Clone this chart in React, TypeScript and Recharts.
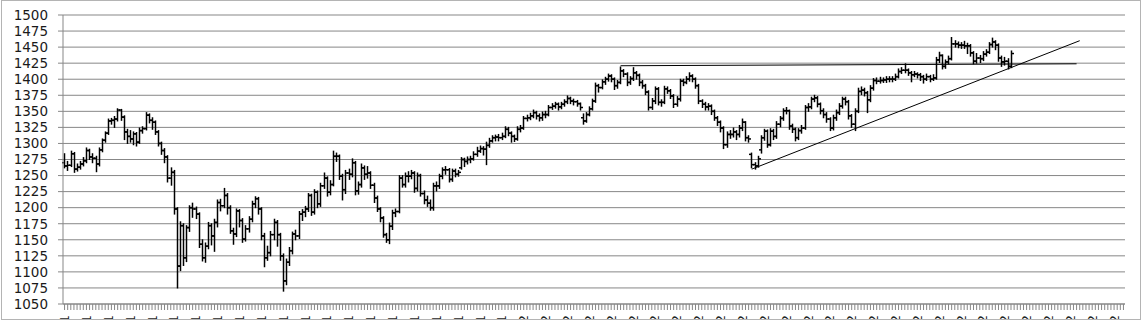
import React from "react";
import { Bar, CartesianGrid, ComposedChart, Line, XAxis, YAxis } from "recharts";

// daily bars (o / h / l / c)
const opens = [
  1270, 1265, 1266, 1284, 1260, 1263, 1268, 1273, 1289, 1279,
  1277, 1268, 1290, 1305, 1316, 1335, 1336, 1338, 1352, 1341,
  1318, 1311, 1307, 1315, 1302, 1320, 1323, 1344, 1336, 1333,
  1318, 1300, 1289, 1279, 1246, 1255, 1198, 1109, 1172, 1122,
  1169, 1200, 1198, 1190, 1143, 1122, 1140, 1172, 1156, 1177,
  1208, 1203, 1219, 1200, 1164, 1159, 1195, 1180, 1151, 1167,
  1182, 1206, 1214, 1198, 1156, 1122, 1130, 1158, 1177, 1158,
  1125, 1086, 1115, 1133, 1159, 1156, 1190, 1193, 1198, 1219,
  1193, 1224, 1206, 1234, 1246, 1224, 1236, 1280, 1280, 1249,
  1228, 1254, 1252, 1270, 1226, 1236, 1262, 1252, 1254, 1235,
  1215, 1198, 1184, 1158, 1150, 1171, 1192, 1194, 1246, 1236,
  1249, 1249, 1254, 1230, 1250, 1222, 1212, 1207, 1200, 1234,
  1234, 1249, 1259, 1259, 1244, 1257, 1252, 1262, 1275, 1272,
  1275, 1276, 1283, 1288, 1292, 1291, 1297, 1304, 1309, 1310,
  1309, 1311, 1322, 1316, 1311, 1307, 1322, 1324, 1339, 1340,
  1343, 1348, 1343, 1340, 1345, 1345, 1356, 1358, 1361, 1357,
  1361, 1365, 1370, 1366, 1365, 1362, 1340, 1335, 1345, 1354,
  1366, 1390, 1387, 1396, 1400, 1405, 1400, 1390, 1395, 1413,
  1408, 1395, 1401, 1410, 1406, 1395, 1390, 1380, 1356, 1366,
  1385, 1364, 1364, 1385, 1382, 1374, 1361, 1369, 1397, 1395,
  1400, 1405, 1400, 1390, 1366, 1361, 1357, 1358, 1350, 1340,
  1333, 1324, 1298, 1314, 1314, 1318, 1314, 1324, 1333, 1309,
  1283, 1267, 1265, 1290, 1309, 1319, 1298, 1319, 1311, 1330,
  1339, 1351, 1351, 1327, 1322, 1309, 1320, 1324, 1356, 1357,
  1369, 1371, 1361, 1351, 1345, 1338, 1324, 1340, 1348, 1358,
  1369, 1365, 1343, 1330, 1350, 1381, 1383, 1379, 1368, 1386,
  1398, 1397, 1398, 1399, 1400, 1400, 1400, 1404, 1412, 1414,
  1414, 1410, 1407, 1408, 1407, 1404, 1400, 1404, 1400, 1402,
  1430, 1437, 1420, 1427, 1432, 1455, 1455, 1453, 1453, 1452,
  1452, 1441, 1428, 1433, 1432, 1439, 1442, 1454, 1458, 1453,
  1433, 1427, 1428, 1420,
];

const highs = [
  1284, 1272, 1288, 1286, 1268, 1272, 1278, 1293, 1291, 1284,
  1280, 1293, 1307, 1318, 1338, 1339, 1342, 1354, 1353, 1343,
  1322, 1320, 1318, 1317, 1324, 1326, 1348, 1346, 1340, 1335,
  1320, 1302, 1292, 1281, 1262, 1258, 1200, 1178, 1175, 1172,
  1203, 1207, 1201, 1192, 1150, 1145, 1177, 1175, 1182, 1212,
  1213, 1230, 1222, 1203, 1168, 1198, 1197, 1183, 1172, 1186,
  1210, 1217, 1216, 1200, 1160, 1140, 1163, 1182, 1180, 1160,
  1128, 1120, 1138, 1162, 1165, 1194, 1197, 1202, 1222, 1221,
  1228, 1226, 1238, 1254, 1248, 1242, 1288, 1285, 1282, 1252,
  1258, 1260, 1276, 1272, 1240, 1268, 1265, 1264, 1256, 1238,
  1218, 1200, 1186, 1160, 1176, 1196, 1198, 1250, 1250, 1254,
  1256, 1258, 1256, 1254, 1252, 1226, 1218, 1212, 1238, 1240,
  1252, 1262, 1264, 1261, 1260, 1260, 1258, 1278, 1277, 1279,
  1280, 1287, 1294, 1296, 1295, 1302, 1308, 1312, 1313, 1314,
  1316, 1326, 1325, 1318, 1313, 1326, 1328, 1342, 1344, 1347,
  1352, 1350, 1346, 1349, 1350, 1359, 1362, 1364, 1363, 1364,
  1368, 1374, 1372, 1369, 1367, 1363, 1346, 1348, 1357, 1369,
  1394, 1392, 1399, 1403, 1408, 1407, 1402, 1398, 1419, 1415,
  1410, 1404, 1418, 1412, 1408, 1398, 1392, 1382, 1370, 1388,
  1387, 1368, 1389, 1388, 1384, 1376, 1373, 1400, 1400, 1404,
  1410, 1407, 1402, 1392, 1368, 1364, 1362, 1360, 1352, 1342,
  1335, 1326, 1318, 1320, 1324, 1320, 1328, 1338, 1334, 1312,
  1285, 1270, 1280, 1312, 1322, 1321, 1323, 1322, 1334, 1342,
  1354, 1356, 1352, 1330, 1324, 1323, 1328, 1359, 1362, 1372,
  1375, 1373, 1363, 1354, 1348, 1340, 1344, 1352, 1362, 1372,
  1372, 1367, 1345, 1354, 1386, 1388, 1386, 1381, 1390, 1401,
  1402, 1403, 1402, 1404, 1404, 1404, 1408, 1416, 1418, 1424,
  1416, 1412, 1412, 1410, 1409, 1406, 1408, 1406, 1407, 1434,
  1442, 1438, 1430, 1436, 1465, 1460, 1458, 1457, 1459, 1456,
  1454, 1443, 1440, 1437, 1443, 1446, 1457, 1464, 1460, 1455,
  1436, 1434, 1432, 1444,
];

const lows = [
  1262, 1258, 1264, 1255, 1257, 1260, 1265, 1270, 1275, 1270,
  1256, 1265, 1287, 1302, 1314, 1330, 1325, 1335, 1336, 1306,
  1300, 1302, 1298, 1296, 1300, 1316, 1321, 1332, 1322, 1314,
  1296, 1283, 1270, 1240, 1235, 1190, 1075, 1102, 1110, 1116,
  1163, 1185, 1183, 1138, 1117, 1115, 1136, 1142, 1132, 1170,
  1195, 1200, 1190, 1160, 1143, 1155, 1170, 1146, 1148, 1162,
  1178, 1200, 1190, 1150, 1108, 1118, 1125, 1150, 1140, 1118,
  1070, 1080, 1110, 1128, 1150, 1152, 1180, 1186, 1194, 1188,
  1190, 1200, 1202, 1230, 1218, 1220, 1234, 1272, 1244, 1212,
  1222, 1244, 1248, 1220, 1221, 1232, 1244, 1246, 1230, 1208,
  1194, 1178, 1154, 1146, 1144, 1166, 1186, 1192, 1232, 1232,
  1240, 1245, 1224, 1226, 1218, 1206, 1202, 1196, 1196, 1226,
  1230, 1245, 1252, 1240, 1241, 1248, 1249, 1260, 1264, 1268,
  1270, 1274, 1280, 1286, 1282, 1267, 1294, 1302, 1304, 1304,
  1306, 1309, 1312, 1302, 1303, 1305, 1318, 1322, 1335, 1337,
  1340, 1338, 1335, 1336, 1340, 1343, 1353, 1355, 1352, 1354,
  1358, 1362, 1362, 1360, 1358, 1352, 1330, 1333, 1343, 1352,
  1364, 1380, 1385, 1392, 1397, 1396, 1384, 1386, 1393, 1404,
  1390, 1392, 1398, 1400, 1390, 1386, 1376, 1352, 1353, 1362,
  1360, 1358, 1362, 1378, 1370, 1356, 1358, 1366, 1390, 1393,
  1397, 1396, 1386, 1362, 1356, 1352, 1352, 1345, 1336, 1328,
  1318, 1292, 1294, 1308, 1310, 1306, 1310, 1320, 1304, 1302,
  1262, 1260, 1263, 1285, 1305, 1294, 1296, 1306, 1308, 1326,
  1336, 1346, 1322, 1317, 1304, 1306, 1316, 1322, 1350, 1354,
  1365, 1357, 1346, 1340, 1333, 1320, 1321, 1336, 1345, 1355,
  1360, 1338, 1325, 1320, 1348, 1376, 1374, 1348, 1365, 1383,
  1393, 1394, 1395, 1395, 1396, 1396, 1398, 1402, 1409, 1410,
  1406, 1396, 1404, 1402, 1398, 1394, 1398, 1396, 1398, 1400,
  1426, 1416, 1417, 1424, 1430, 1450, 1449, 1448, 1448, 1440,
  1436, 1424, 1425, 1426, 1429, 1436, 1440, 1450, 1446, 1428,
  1420, 1422, 1416, 1418,
];

const closes = [
  1265, 1266, 1284, 1260, 1263, 1268, 1273, 1289, 1279, 1277,
  1268, 1290, 1305, 1316, 1335, 1336, 1338, 1352, 1341, 1318,
  1311, 1307, 1315, 1302, 1320, 1323, 1344, 1336, 1333, 1318,
  1300, 1289, 1279, 1246, 1255, 1198, 1109, 1172, 1122, 1169,
  1200, 1198, 1190, 1143, 1122, 1140, 1172, 1156, 1177, 1208,
  1203, 1219, 1200, 1164, 1159, 1195, 1180, 1151, 1167, 1182,
  1206, 1214, 1198, 1156, 1122, 1130, 1158, 1177, 1158, 1125,
  1086, 1115, 1133, 1159, 1156, 1190, 1193, 1198, 1219, 1193,
  1224, 1206, 1234, 1246, 1224, 1236, 1280, 1280, 1249, 1228,
  1254, 1252, 1270, 1226, 1236, 1262, 1252, 1254, 1235, 1215,
  1198, 1184, 1158, 1150, 1171, 1192, 1194, 1246, 1236, 1249,
  1249, 1254, 1230, 1250, 1222, 1212, 1207, 1200, 1234, 1234,
  1249, 1259, 1259, 1244, 1257, 1252, 1255, 1275, 1272, 1275,
  1276, 1283, 1288, 1292, 1291, 1297, 1304, 1309, 1310, 1309,
  1311, 1322, 1316, 1311, 1307, 1322, 1324, 1339, 1340, 1343,
  1348, 1343, 1340, 1345, 1345, 1356, 1358, 1361, 1357, 1361,
  1365, 1370, 1366, 1365, 1362, 1356, 1335, 1345, 1354, 1366,
  1390, 1387, 1396, 1400, 1405, 1400, 1390, 1395, 1413, 1408,
  1395, 1401, 1410, 1406, 1395, 1390, 1380, 1356, 1366, 1385,
  1364, 1364, 1385, 1382, 1374, 1361, 1369, 1397, 1395, 1400,
  1405, 1400, 1390, 1366, 1361, 1357, 1358, 1350, 1340, 1333,
  1324, 1298, 1314, 1314, 1318, 1314, 1324, 1333, 1309, 1307,
  1267, 1265, 1276, 1309, 1319, 1298, 1319, 1311, 1330, 1339,
  1351, 1351, 1327, 1322, 1309, 1320, 1324, 1356, 1357, 1369,
  1371, 1361, 1351, 1345, 1338, 1324, 1340, 1348, 1358, 1369,
  1365, 1343, 1330, 1350, 1381, 1383, 1379, 1368, 1386, 1398,
  1397, 1398, 1399, 1400, 1400, 1400, 1404, 1412, 1414, 1414,
  1410, 1407, 1408, 1407, 1404, 1400, 1404, 1400, 1402, 1430,
  1437, 1420, 1427, 1432, 1455, 1455, 1453, 1453, 1452, 1452,
  1441, 1428, 1433, 1432, 1439, 1442, 1454, 1458, 1453, 1433,
  1427, 1428, 1420, 1440,
];

// hand-drawn trend lines: [slot, value] at each end
const resistanceLine = [[178, 1421], [324, 1424]];
const supportLine = [[220, 1260], [325, 1460]];

const yTicks = [1050, 1075, 1100, 1125, 1150, 1175, 1200, 1225, 1250, 1275, 1300, 1325, 1350, 1375, 1400, 1425, 1450, 1475, 1500];

// one label every 7 slots (mostly cut off at the bottom edge)
const tickLabels = [
  "6/13/2011", "6/22/2011", "7/1/2011", "7/12/2011", "7/21/2011", "8/1/2011", "8/10/2011", "8/19/2011", "8/30/2011", "9/9/2011",
  "9/20/2011", "9/29/2011", "10/10/2011", "10/19/2011", "10/28/2011", "11/8/2011", "11/17/2011", "11/29/2011", "12/8/2011", "12/19/2011",
  "12/29/2011", "1/10/2012", "1/20/2012", "1/31/2012", "2/9/2012", "2/21/2012", "3/1/2012", "3/12/2012", "3/21/2012", "3/30/2012",
  "4/11/2012", "4/20/2012", "5/1/2012", "5/10/2012", "5/21/2012", "5/31/2012", "6/11/2012", "6/20/2012", "6/29/2012", "7/11/2012",
  "7/20/2012", "7/31/2012", "8/9/2012", "8/20/2012", "8/29/2012", "9/10/2012", "9/19/2012", "9/28/2012", "10/9/2012",
];

const slotCount = 340;

const lineValue = (pts: number[][], i: number) => {
  const hit = pts.find((p) => p[0] === i);
  return hit ? hit[1] : null;
};

const data = Array.from({ length: slotCount }, (_, i) => {
  const has = i < closes.length;
  return {
    slot: i,
    open: has ? opens[i] : null,
    high: has ? highs[i] : null,
    low: has ? lows[i] : null,
    close: has ? closes[i] : null,
    range: has ? [lows[i], highs[i]] : null,
    resistance: lineValue(resistanceLine, i),
    support: lineValue(supportLine, i),
  };
});

const FONT = "'DejaVu Sans', Verdana, sans-serif";
const GRID = "#878787";

function OhlcBar(props: any) {
  const { x, width, y, height, payload } = props;
  if (!payload || payload.high == null) return null;
  const top = Math.min(y, y + height);
  const h = Math.abs(height);
  const cx = Math.round(x + width / 2) + 0.5;
  const span = payload.high - payload.low || 1;
  const py = (v: number) => top + ((payload.high - v) / span) * h;
  return (
    <g>
      <line x1={cx} x2={cx} y1={top - 0.5} y2={top + h + 0.5} stroke="#000" strokeWidth={1.5} />
      <line x1={cx - 2.5} x2={cx} y1={py(payload.open)} y2={py(payload.open)} stroke="#000" strokeWidth={1.5} />
      <line x1={cx} x2={cx + 2.5} y1={py(payload.close)} y2={py(payload.close)} stroke="#000" strokeWidth={1.5} />
    </g>
  );
}

function DateTick(props: any) {
  const { x, y, payload } = props;
  const v = payload.value;
  if (v % 7 !== 0) return null;
  const label = tickLabels[v / 7];
  if (!label) return null;
  return (
    <text
      x={x}
      y={y}
      transform={`rotate(-90 ${x} ${y})`}
      textAnchor="end"
      dy="0.35em"
      fontSize={13}
      fontFamily={FONT}
      fill="#1f1f1f"
    >
      {label}
    </text>
  );
}

export default function App() {
  return (
    <div style={{ position: "absolute", left: 0, top: 0, width: 1141, height: 320, background: "#fff" }}>
      <ComposedChart width={1141} height={320} data={data} margin={{ top: 15, right: 16, left: 0, bottom: 0 }}>
        <CartesianGrid vertical={false} stroke={GRID} strokeWidth={1} />
        <XAxis
          dataKey="slot"
          type="category"
          interval={0}
          height={16}
          tickSize={6}
          tickMargin={5}
          stroke={GRID}
          tickLine={{ stroke: GRID }}
          tick={<DateTick />}
        />
        <YAxis
          domain={[1050, 1500]}
          ticks={yTicks}
          interval={0}
          width={63}
          tickSize={5}
          tickMargin={10}
          stroke={GRID}
          tickLine={{ stroke: GRID }}
          tick={{ fill: "#1a1a1a", fontSize: 13.5, fontFamily: FONT }}
        />
        <Bar dataKey="range" shape={<OhlcBar />} isAnimationActive={false} />
        <Line type="linear" dataKey="resistance" stroke="#000" strokeWidth={1} dot={false} connectNulls isAnimationActive={false} />
        <Line type="linear" dataKey="support" stroke="#000" strokeWidth={1} dot={false} connectNulls isAnimationActive={false} />
      </ComposedChart>
      <div
        style={{
          position: "absolute",
          left: 1,
          top: 0,
          width: 1140,
          height: 320,
          boxSizing: "border-box",
          border: "1px solid #b4b4b4",
          pointerEvents: "none",
        }}
      />
    </div>
  );
}
